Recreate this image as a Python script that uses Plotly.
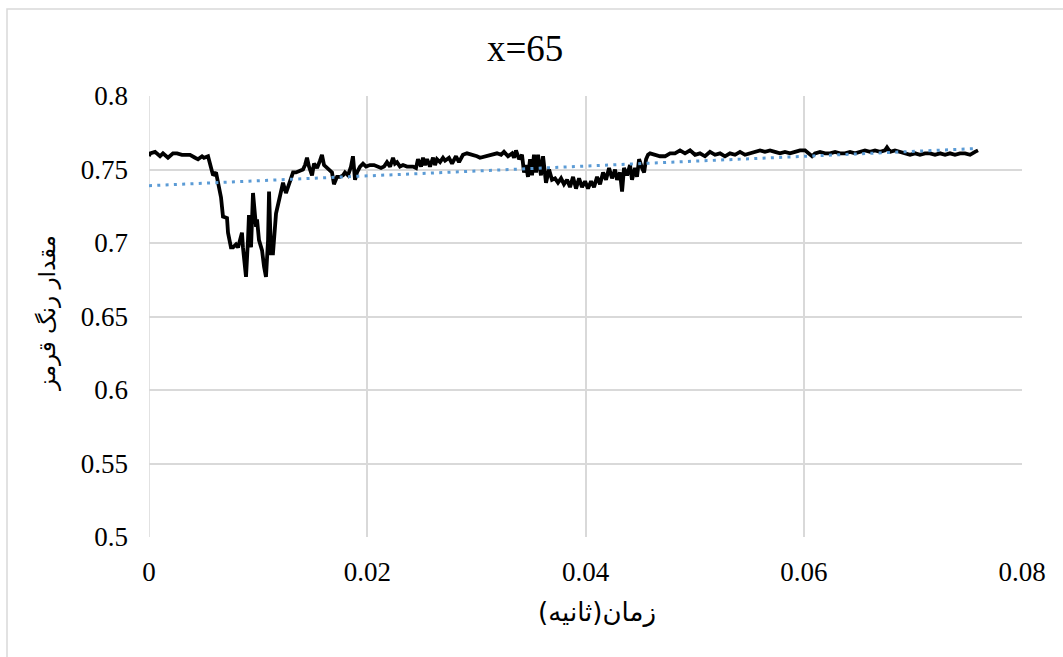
import plotly.graph_objects as go

# Sampled time (s) and red-channel value along the x=65 column
time_s = [
    0.00000, 0.00009, 0.00055, 0.00101, 0.00128, 0.00174, 0.00220, 0.00257, 0.00302, 0.00348,
    0.00376, 0.00422, 0.00449, 0.00486, 0.00504, 0.00541, 0.00568, 0.00587, 0.00614, 0.00632,
    0.00660, 0.00678, 0.00715, 0.00724, 0.00751, 0.00770, 0.00797, 0.00816, 0.00834, 0.00852,
    0.00861, 0.00889, 0.00907, 0.00916, 0.00935, 0.00953, 0.00981, 0.00990, 0.01008, 0.01036,
    0.01054, 0.01072, 0.01091, 0.01100, 0.01118, 0.01136, 0.01164, 0.01182, 0.01210, 0.01228,
    0.01255, 0.01274, 0.01301, 0.01320, 0.01347, 0.01375, 0.01411, 0.01430, 0.01448, 0.01466,
    0.01494, 0.01512, 0.01540, 0.01567, 0.01585, 0.01604, 0.01631, 0.01650, 0.01677, 0.01695,
    0.01723, 0.01750, 0.01778, 0.01796, 0.01824, 0.01851, 0.01869, 0.01888, 0.01906, 0.01934,
    0.01961, 0.01989, 0.02025, 0.02062, 0.02089, 0.02126, 0.02154, 0.02181, 0.02209, 0.02236,
    0.02254, 0.02273, 0.02300, 0.02328, 0.02364, 0.02392, 0.02419, 0.02447, 0.02465, 0.02493,
    0.02511, 0.02529, 0.02548, 0.02575, 0.02603, 0.02621, 0.02639, 0.02667, 0.02694, 0.02713,
    0.02749, 0.02777, 0.02813, 0.02841, 0.02877, 0.02914, 0.02969, 0.03006, 0.03033, 0.03088,
    0.03143, 0.03189, 0.03226, 0.03253, 0.03290, 0.03327, 0.03345, 0.03363, 0.03391, 0.03418,
    0.03437, 0.03455, 0.03473, 0.03492, 0.03510, 0.03528, 0.03547, 0.03565, 0.03592, 0.03611,
    0.03638, 0.03666, 0.03693, 0.03721, 0.03748, 0.03776, 0.03803, 0.03831, 0.03858, 0.03886,
    0.03913, 0.03941, 0.03968, 0.03996, 0.04023, 0.04051, 0.04078, 0.04106, 0.04133, 0.04161,
    0.04188, 0.04216, 0.04243, 0.04271, 0.04289, 0.04316, 0.04335, 0.04353, 0.04381, 0.04408,
    0.04426, 0.04454, 0.04472, 0.04491, 0.04518, 0.04537, 0.04555, 0.04573, 0.04592, 0.04637,
    0.04683, 0.04729, 0.04775, 0.04820, 0.04866, 0.04912, 0.04958, 0.05004, 0.05049, 0.05095,
    0.05141, 0.05187, 0.05233, 0.05278, 0.05324, 0.05370, 0.05416, 0.05462, 0.05507, 0.05553,
    0.05599, 0.05645, 0.05691, 0.05736, 0.05782, 0.05828, 0.05874, 0.05920, 0.05966, 0.06012,
    0.06039, 0.06076, 0.06103, 0.06149, 0.06195, 0.06241, 0.06287, 0.06332, 0.06378, 0.06424,
    0.06470, 0.06516, 0.06561, 0.06607, 0.06653, 0.06699, 0.06745, 0.06763, 0.06791, 0.06836,
    0.06882, 0.06928, 0.06974, 0.07020, 0.07065, 0.07111, 0.07157, 0.07203, 0.07249, 0.07295,
    0.07340, 0.07386, 0.07432, 0.07478, 0.07524, 0.07569, 0.07597,
]

red_value = [
    0.759, 0.761, 0.762, 0.759, 0.761, 0.758, 0.761, 0.761, 0.760, 0.760,
    0.760, 0.758, 0.757, 0.759, 0.758, 0.759, 0.750, 0.746, 0.748, 0.741,
    0.731, 0.718, 0.717, 0.707, 0.697, 0.697, 0.699, 0.697, 0.702, 0.707,
    0.697, 0.677, 0.702, 0.719, 0.697, 0.734, 0.711, 0.716, 0.702, 0.695,
    0.684, 0.677, 0.702, 0.735, 0.693, 0.693, 0.720, 0.726, 0.736, 0.741,
    0.734, 0.738, 0.743, 0.748, 0.748, 0.749, 0.750, 0.753, 0.758, 0.752,
    0.746, 0.754, 0.751, 0.756, 0.760, 0.753, 0.751, 0.750, 0.748, 0.740,
    0.745, 0.745, 0.746, 0.748, 0.746, 0.752, 0.759, 0.743, 0.748, 0.752,
    0.754, 0.752, 0.753, 0.753, 0.752, 0.751, 0.752, 0.755, 0.752, 0.758,
    0.754, 0.755, 0.752, 0.753, 0.752, 0.752, 0.752, 0.751, 0.757, 0.752,
    0.758, 0.753, 0.757, 0.752, 0.758, 0.753, 0.757, 0.755, 0.758, 0.756,
    0.758, 0.754, 0.759, 0.755, 0.760, 0.761, 0.760, 0.759, 0.758, 0.759,
    0.760, 0.761, 0.760, 0.762, 0.759, 0.761, 0.758, 0.763, 0.757, 0.760,
    0.748, 0.753, 0.745, 0.757, 0.746, 0.760, 0.748, 0.760, 0.746, 0.759,
    0.741, 0.750, 0.743, 0.744, 0.741, 0.744, 0.740, 0.743, 0.738, 0.745,
    0.737, 0.744, 0.738, 0.742, 0.737, 0.742, 0.738, 0.745, 0.740, 0.748,
    0.743, 0.751, 0.744, 0.750, 0.743, 0.748, 0.735, 0.751, 0.746, 0.753,
    0.743, 0.751, 0.745, 0.757, 0.751, 0.748, 0.757, 0.760, 0.761, 0.760,
    0.759, 0.759, 0.761, 0.761, 0.763, 0.761, 0.763, 0.760, 0.761, 0.759,
    0.762, 0.760, 0.761, 0.759, 0.761, 0.760, 0.762, 0.760, 0.761, 0.762,
    0.763, 0.762, 0.763, 0.762, 0.761, 0.762, 0.761, 0.762, 0.763, 0.763,
    0.761, 0.759, 0.761, 0.762, 0.761, 0.761, 0.762, 0.761, 0.761, 0.762,
    0.761, 0.762, 0.763, 0.762, 0.763, 0.762, 0.763, 0.765, 0.762, 0.763,
    0.762, 0.761, 0.760, 0.761, 0.760, 0.761, 0.761, 0.760, 0.761, 0.760,
    0.761, 0.760, 0.761, 0.761, 0.760, 0.762, 0.763,
]

# Linear trend line (value = intercept + slope * t)
trend_intercept = 0.7390
trend_slope = 0.333

x_ticks = [0, 0.02, 0.04, 0.06, 0.08]
x_tick_text = ["0", "0.02", "0.04", "0.06", "0.08"]
y_ticks = [0.5, 0.55, 0.6, 0.65, 0.7, 0.75, 0.8]
y_tick_text = ["0.5", "0.55", "0.6", "0.65", "0.7", "0.75", "0.8"]

chart_title = "x=65"
x_title = "زمان(ثانیه)"
y_title = "مقدار رنگ قرمز"

SERIF = "Liberation Serif"
ARABIC = "DejaVu Sans"
GRID = "#d9d9d9"

W, H = 1063, 657
ML, MR, MT, MB = 149, 41, 96, 120
PW, PH = W - ML - MR, H - MT - MB

fig = go.Figure()

fig.add_trace(go.Scatter(
    x=time_s, y=red_value, mode="lines",
    line=dict(color="#000000", width=3.8),
    showlegend=False, hoverinfo="skip",
))

t_end = time_s[-1]
fig.add_trace(go.Scatter(
    x=[0, t_end],
    y=[trend_intercept, trend_intercept + trend_slope * t_end],
    mode="lines",
    line=dict(color="#5b9bd5", width=3, dash="3px,5.3px"),
    showlegend=False, hoverinfo="skip",
))

fig.update_xaxes(
    range=[0, 0.08], tickvals=x_ticks, ticktext=x_tick_text,
    showgrid=True, gridcolor=GRID, gridwidth=1.5,
    showline=False, zeroline=False, ticks="",
    tickfont=dict(family=SERIF, size=27, color="#000000"),
    ticklabelstandoff=16,
)
fig.update_yaxes(
    range=[0.5, 0.8], tickvals=y_ticks, ticktext=y_tick_text,
    showgrid=True, gridcolor=GRID, gridwidth=1.5,
    showline=False, zeroline=False, ticks="",
    tickfont=dict(family=SERIF, size=27, color="#000000"),
    ticklabelstandoff=20,
)

def px_x(p):
    return (p - ML) / PW

def px_y(p):
    return (H - MB - p) / PH

shapes = [
    # left axis line
    dict(type="line", xref="x", yref="y", x0=0, x1=0, y0=0.5, y1=0.8,
         line=dict(color=GRID, width=1.5), layer="below"),
    # chart area border
    dict(type="rect", xref="paper", yref="paper",
         x0=px_x(7), x1=px_x(1075), y0=px_y(670), y1=px_y(9),
         line=dict(color=GRID, width=1.5), layer="below"),
]

annotations = [
    dict(text=chart_title, xref="paper", yref="paper",
         x=px_x(525), y=px_y(48), showarrow=False,
         font=dict(family=SERIF, size=37, color="#000000"),
         xanchor="center", yanchor="middle"),
    dict(text=x_title, xref="paper", yref="paper",
         x=px_x(597), y=px_y(612), showarrow=False,
         font=dict(family=ARABIC, size=26, color="#000000"),
         xanchor="center", yanchor="middle"),
    dict(text=y_title, xref="paper", yref="paper",
         x=px_x(47), y=px_y(313), showarrow=False, textangle=-90,
         font=dict(family=ARABIC, size=23, color="#000000"),
         xanchor="center", yanchor="middle"),
]

fig.update_layout(
    width=W, height=H,
    margin=dict(l=ML, r=MR, t=MT, b=MB),
    paper_bgcolor="#ffffff", plot_bgcolor="#ffffff",
    shapes=shapes, annotations=annotations,
)

fig.write_html("out.html")
